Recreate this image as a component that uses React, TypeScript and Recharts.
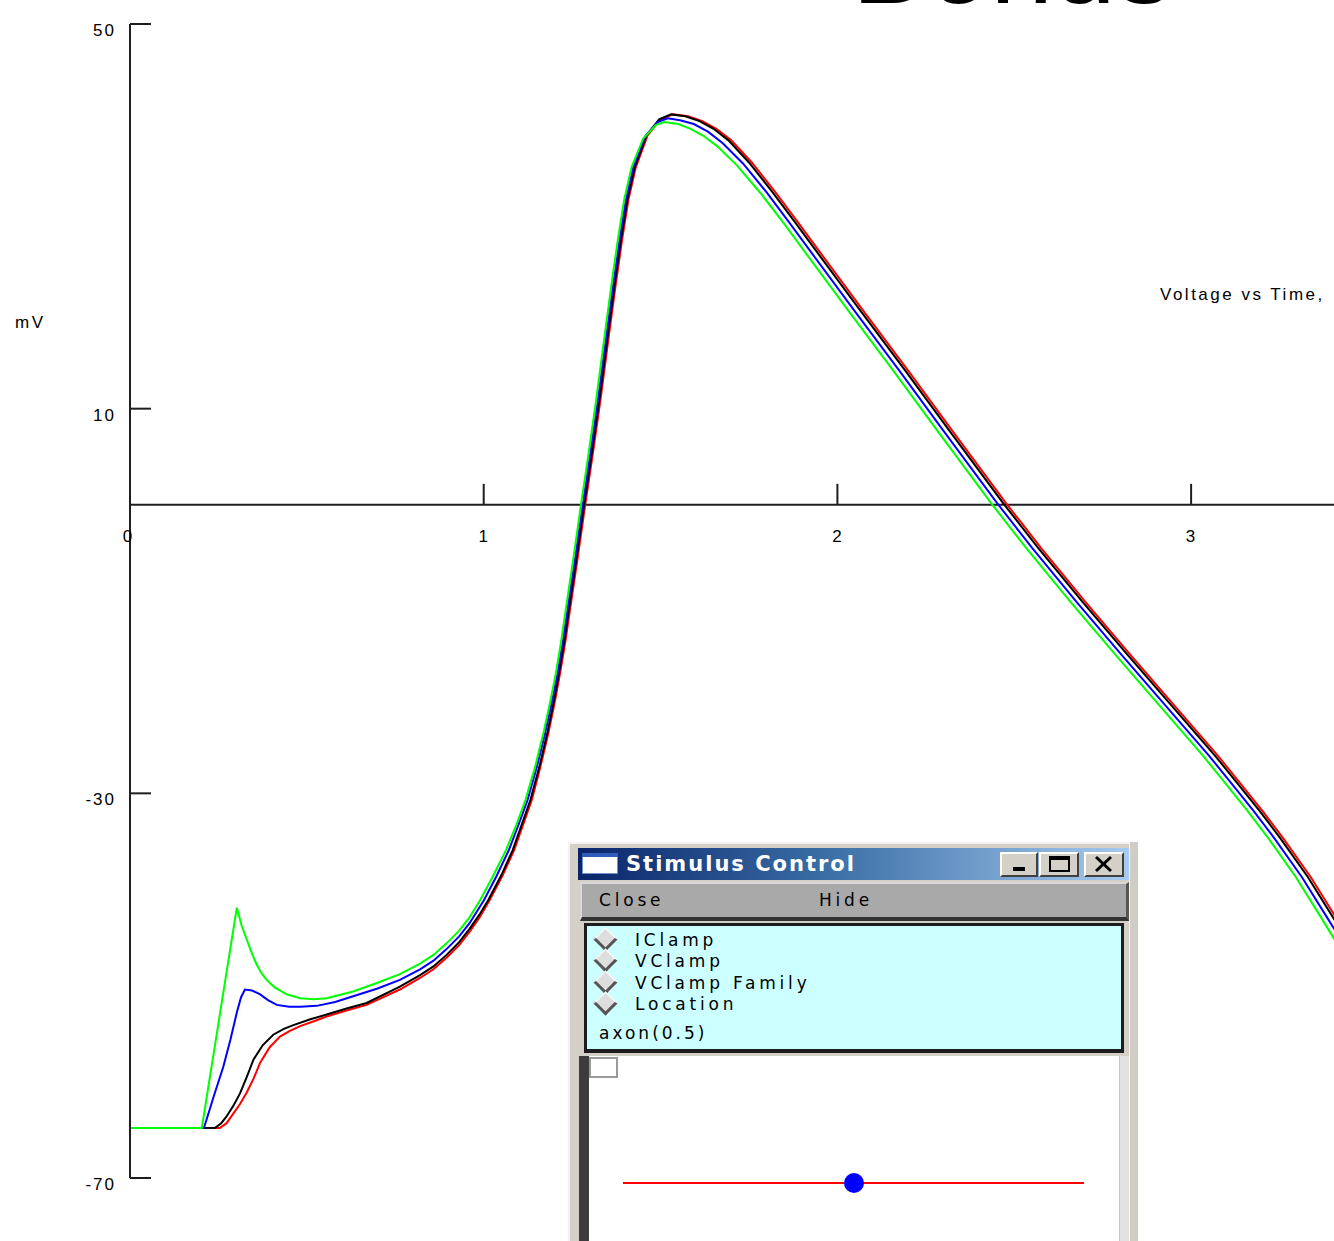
import React from 'react';
import { LineChart, Line, XAxis, YAxis, ReferenceLine } from 'recharts';

// [time (ms), membrane potential (mV)]
const redTrace: [number, number][] = [
  [0, -64.8], [0.254, -64.8], [0.273, -64.3], [0.292, -63.3], [0.311, -62.3], [0.33, -61.1], [0.349, -59.7],
  [0.368, -58.0], [0.395, -56.4], [0.424, -55.3], [0.452, -54.7], [0.481, -54.2], [0.52, -53.7], [0.556, -53.2],
  [0.61, -52.6], [0.669, -52.0], [0.763, -50.4], [0.82, -49.2], [0.858, -48.3], [0.895, -47.1], [0.93, -45.8],
  [0.96, -44.4], [0.99, -42.8], [1.017, -41.1], [1.054, -38.5], [1.086, -35.9], [1.111, -33.3], [1.136, -30.7],
  [1.16, -27.3], [1.183, -23.7], [1.201, -20.5], [1.216, -17.5], [1.231, -14.2], [1.244, -10.9], [1.265, -5.7],
  [1.287, 0.0], [1.31, 5.7], [1.33, 10.9], [1.355, 17.9], [1.374, 23.1], [1.391, 27.5], [1.409, 31.7],
  [1.43, 35.1], [1.463, 38.4], [1.5, 40.1], [1.535, 40.6], [1.578, 40.4], [1.618, 39.9], [1.658, 39.1],
  [1.7, 37.9], [1.758, 35.6], [1.825, 32.5], [1.888, 29.4], [1.95, 26.3], [2.075, 20.1], [2.201, 13.9],
  [2.325, 7.7], [2.476, 0.2], [2.576, -4.5], [2.701, -10.1], [2.826, -15.5], [2.951, -20.8], [3.076, -26.1],
  [3.151, -29.5], [3.201, -31.8], [3.259, -34.6], [3.338, -38.7], [3.411, -43.0], [3.508, -48.8],
];

const blackTrace: [number, number][] = [
  [0, -64.8], [0.24, -64.8], [0.258, -64.3], [0.273, -63.6], [0.292, -62.5], [0.311, -61.2], [0.33, -59.5],
  [0.349, -57.7], [0.375, -56.2], [0.405, -55.1], [0.435, -54.5], [0.462, -54.1], [0.51, -53.5], [0.556, -53.0],
  [0.61, -52.4], [0.669, -51.8], [0.763, -50.1], [0.82, -48.9], [0.858, -48.0], [0.895, -46.8], [0.93, -45.5],
  [0.96, -44.1], [0.99, -42.5], [1.013, -41.1], [1.05, -38.5], [1.082, -35.9], [1.107, -33.3], [1.132, -30.7],
  [1.157, -27.3], [1.18, -23.7], [1.198, -20.5], [1.213, -17.5], [1.228, -14.2], [1.241, -10.9], [1.262, -5.7],
  [1.284, 0.0], [1.307, 5.7], [1.327, 10.9], [1.352, 17.9], [1.371, 23.1], [1.388, 27.5], [1.406, 31.7],
  [1.427, 35.1], [1.46, 38.4], [1.496, 40.1], [1.53, 40.6], [1.57, 40.4], [1.61, 39.9], [1.65, 39.1],
  [1.692, 37.9], [1.75, 35.6], [1.817, 32.5], [1.88, 29.4], [1.942, 26.3], [2.067, 20.1], [2.193, 13.9],
  [2.317, 7.7], [2.468, 0.2], [2.568, -4.5], [2.693, -10.1], [2.818, -15.5], [2.943, -20.8], [3.068, -26.1],
  [3.143, -29.5], [3.193, -31.8], [3.251, -34.6], [3.33, -38.7], [3.403, -43.0], [3.5, -48.8],
];

const blueTrace: [number, number][] = [
  [0, -64.8], [0.209, -64.8], [0.236, -61.6], [0.264, -58.4], [0.284, -55.6], [0.302, -52.8], [0.314, -51.2],
  [0.325, -50.4], [0.345, -50.5], [0.368, -50.9], [0.39, -51.5], [0.415, -52.0], [0.45, -52.2], [0.481, -52.2],
  [0.528, -52.1], [0.58, -51.7], [0.631, -51.1], [0.7, -50.3], [0.763, -49.4], [0.82, -48.3], [0.858, -47.4],
  [0.895, -46.2], [0.93, -44.9], [0.96, -43.5], [1.001, -41.1], [1.035, -38.7], [1.071, -35.9], [1.098, -33.3],
  [1.124, -30.7], [1.15, -27.3], [1.174, -23.7], [1.193, -20.5], [1.209, -17.5], [1.224, -14.2], [1.237, -10.9],
  [1.258, -5.7], [1.28, 0.0], [1.303, 5.7], [1.323, 10.9], [1.348, 17.9], [1.367, 23.1], [1.384, 27.5],
  [1.402, 31.7], [1.423, 35.1], [1.456, 38.3], [1.492, 39.8], [1.52, 40.2], [1.555, 40.0], [1.594, 39.6],
  [1.634, 38.8], [1.676, 37.6], [1.733, 35.5], [1.8, 32.5], [1.863, 29.4], [1.925, 26.3], [2.05, 20.1],
  [2.176, 13.9], [2.3, 7.7], [2.451, 0.2], [2.551, -4.5], [2.676, -10.1], [2.801, -15.5], [2.926, -20.8],
  [3.051, -26.1], [3.126, -29.5], [3.176, -31.8], [3.234, -34.6], [3.313, -38.7], [3.386, -43.0],
  [3.483, -48.8], [3.55, -53.3],
];

const greenTrace: [number, number][] = [
  [0, -64.8], [0.203, -64.8], [0.302, -41.9], [0.316, -43.8], [0.33, -45.2], [0.344, -46.6], [0.358, -47.8],
  [0.372, -48.7], [0.386, -49.4], [0.41, -50.2], [0.443, -50.9], [0.481, -51.3], [0.52, -51.4], [0.556, -51.3],
  [0.631, -50.6], [0.7, -49.7], [0.763, -48.8], [0.82, -47.7], [0.858, -46.8], [0.895, -45.6], [0.93, -44.3],
  [0.96, -42.9], [0.99, -41.1], [1.025, -38.7], [1.063, -35.9], [1.092, -33.3], [1.118, -30.7], [1.145, -27.3],
  [1.169, -23.7], [1.188, -20.5], [1.204, -17.5], [1.219, -14.2], [1.232, -10.9], [1.253, -5.7], [1.275, 0.0],
  [1.298, 5.7], [1.318, 10.9], [1.343, 17.9], [1.362, 23.1], [1.379, 27.5], [1.397, 31.7], [1.418, 35.1],
  [1.451, 38.1], [1.487, 39.5], [1.51, 39.8], [1.55, 39.6], [1.585, 39.1], [1.62, 38.4], [1.66, 37.3],
  [1.716, 35.3], [1.783, 32.4], [1.846, 29.4], [1.908, 26.3], [2.033, 20.1], [2.159, 13.9], [2.283, 7.7],
  [2.434, 0.2], [2.534, -4.5], [2.659, -10.1], [2.784, -15.5], [2.909, -20.8], [3.034, -26.1], [3.109, -29.5],
  [3.159, -31.8], [3.217, -34.6], [3.296, -38.7], [3.369, -43.0], [3.466, -48.8], [3.55, -54.0],
];

const xTicks = [0, 1, 2, 3];
const yTicks = [50, 10, -30, -70];
const menuItems = ['IClamp', 'VClamp', 'VClamp Family', 'Location'];
const locationLabel = 'axon(0.5)';
const buttonLabels = ['Close', 'Hide'];

const X_MAX = 3.404;
const Y_MIN = -70;
const Y_MAX = 50;
const W = 1334;
const H = 1241;
const MARGIN = { top: 24, right: 0, bottom: 33, left: 0 };
const YAXIS_W = 130;
const XAXIS_H = 30;
const PLOT_H = H - MARGIN.top - MARGIN.bottom - XAXIS_H;
const ZERO_Y = MARGIN.top + (PLOT_H * (Y_MAX - 0)) / (Y_MAX - Y_MIN);

const axisFont = "'Liberation Sans', Arial, sans-serif";
const winFont = "'DejaVu Sans', sans-serif";
const AXIS_COLOR = '#1e1e1e';

const toPoints = (trace: [number, number][]) => trace.map(([t, v]) => ({ t, v }));

const XTick = (props: any) => {
  const { x, payload } = props;
  return (
    <g transform={`translate(${x},${ZERO_Y})`}>
      {payload.value !== 0 && <line x1={0} x2={0} y1={-21} y2={0} stroke={AXIS_COLOR} strokeWidth={2} />}
      <text
        x={payload.value === 0 ? -2 : 0}
        y={37}
        textAnchor="middle"
        fontFamily={axisFont}
        fontSize={17}
        letterSpacing={1}
        fill="#000"
      >
        {payload.value}
      </text>
    </g>
  );
};

const YTick = (props: any) => {
  const { x, y, payload } = props;
  return (
    <g>
      <line x1={x} x2={x + 21} y1={y} y2={y} stroke={AXIS_COLOR} strokeWidth={2} />
      <text x={x - 14} y={y + 12} textAnchor="end" fontFamily={axisFont} fontSize={17} letterSpacing={2} fill="#000">
        {payload.value}
      </text>
    </g>
  );
};

const OX = 568;
const OY = 842;
const at = (x: number, y: number, w: number, h: number): React.CSSProperties => ({
  position: 'absolute',
  left: x - OX,
  top: y - OY,
  width: w,
  height: h,
  boxSizing: 'border-box',
});

const winText: React.CSSProperties = {
  fontFamily: winFont,
  fontSize: 17,
  letterSpacing: 3.8,
  color: '#000',
  whiteSpace: 'nowrap',
};

const bevel: React.CSSProperties = {
  background: '#d4d0c8',
  borderTop: '2px solid #ffffff',
  borderLeft: '2px solid #ffffff',
  borderBottom: '2px solid #404040',
  borderRight: '2px solid #404040',
};

const StimulusWindow = () => (
  <div style={{ position: 'absolute', left: OX, top: OY, width: 570, height: H - OY, background: '#d4d0c8', overflow: 'hidden' }}>
    <div style={{ ...at(568, 842, 570, 2), background: '#f2f2f2' }} />
    <div style={{ ...at(568, 842, 2, 400), background: '#f2f2f2' }} />
    {/* title bar */}
    <div style={{ ...at(578, 848, 551, 32), background: 'linear-gradient(to right, #0a246a 0%, #3a6ea5 45%, #a6caf0 100%)' }} />
    <div style={{ ...at(582, 853, 36, 21), background: '#ffffff', border: '1px solid #6f8fd0' }} />
    <div style={{ ...at(582, 853, 36, 4), background: '#2f5cb8' }} />
    <div
      style={{
        ...at(626, 848, 300, 32),
        lineHeight: '32px',
        fontFamily: winFont,
        fontWeight: 'bold',
        fontSize: 21,
        letterSpacing: 2,
        color: '#ffffff',
        whiteSpace: 'nowrap',
      }}
    >
      Stimulus Control
    </div>
    <div style={{ ...at(1000, 852, 38, 25), ...bevel }}>
      <div style={{ position: 'absolute', left: 11, top: 13, width: 12, height: 4, background: '#000' }} />
    </div>
    <div style={{ ...at(1039, 852, 40, 25), ...bevel }}>
      <div style={{ position: 'absolute', left: 8, top: 2, width: 21, height: 16, border: '2px solid #000', borderTop: '4px solid #000', boxSizing: 'border-box' }} />
    </div>
    <div style={{ ...at(1084, 852, 40, 25), ...bevel }}>
      <svg width={36} height={21} style={{ position: 'absolute', left: 0, top: 0 }}>
        <line x1={10} y1={3} x2={25} y2={17} stroke="#000" strokeWidth={3} />
        <line x1={25} y1={3} x2={10} y2={17} stroke="#000" strokeWidth={3} />
      </svg>
    </div>
    {/* button bar */}
    <div
      style={{
        ...at(580, 882, 549, 39),
        background: '#a9a9a9',
        borderTop: '2px solid #d8d8d8',
        borderLeft: '2px solid #d8d8d8',
        borderBottom: '4px solid #333333',
        borderRight: '3px solid #555555',
      }}
    />
    <div style={{ ...at(599, 888, 120, 24), ...winText, lineHeight: '24px' }}>{buttonLabels[0]}</div>
    <div style={{ ...at(819, 888, 120, 24), ...winText, lineHeight: '24px' }}>{buttonLabels[1]}</div>
    {/* cyan panel */}
    <div style={{ ...at(584, 923, 540, 130), background: '#ccffff', border: '3px solid #1c1c1c', borderBottom: '4px solid #1c1c1c' }} />
    {menuItems.map((item, i) => {
      const cy = 940 + i * 21.3;
      return (
        <React.Fragment key={item}>
          <div
            style={{
              ...at(597, cy - 9, 17, 17),
              background: '#dedede',
              borderTop: '1px solid #ffffff',
              borderLeft: '1px solid #ffffff',
              borderBottom: '3px solid #555555',
              borderRight: '3px solid #555555',
              transform: 'rotate(45deg)',
            }}
          />
          <div style={{ ...at(635, cy - 11, 300, 22), ...winText, lineHeight: '22px' }}>{item}</div>
        </React.Fragment>
      );
    })}
    <div style={{ ...at(599, 1022, 300, 22), ...winText, lineHeight: '22px', letterSpacing: 3 }}>{locationLabel}</div>
    {/* lower white area */}
    <div style={{ ...at(579, 1056, 10, 200), background: '#3c3c3c' }} />
    <div style={{ ...at(589, 1056, 530, 200), background: '#ffffff' }} />
    <div style={{ ...at(1119, 1056, 10, 200), background: '#e2e2e2', borderLeft: '1px solid #c8c8c8' }} />
    <div style={{ ...at(1129, 842, 9, 400), background: '#d0cdc6', borderLeft: '1px solid #f4f4f4' }} />
    <div style={{ ...at(589, 1057, 29, 21), background: '#ffffff', border: '2px solid #9a9a9a' }} />
    <div style={{ ...at(623, 1182, 461, 2), background: '#ff0000' }} />
    <div style={{ ...at(844, 1173, 20, 20), background: '#0000ff', borderRadius: '50%' }} />
  </div>
);

export default function App() {
  return (
    <div style={{ position: 'absolute', left: 0, top: 0, width: W, height: H, background: '#ffffff', overflow: 'hidden' }}>
      <div
        style={{
          position: 'absolute',
          left: 852,
          top: -92,
          fontFamily: axisFont,
          fontSize: 113,
          lineHeight: '113px',
          color: '#000',
          whiteSpace: 'nowrap',
        }}
      >
        Bonus
      </div>
      <LineChart width={W} height={H} margin={MARGIN}>
        <XAxis
          dataKey="t"
          type="number"
          domain={[0, X_MAX]}
          allowDataOverflow
          ticks={xTicks}
          interval={0}
          axisLine={false}
          tickLine={false}
          tickSize={0}
          tickMargin={0}
          height={XAXIS_H}
          tick={<XTick />}
        />
        <YAxis
          type="number"
          domain={[Y_MIN, Y_MAX]}
          ticks={yTicks}
          interval={0}
          width={YAXIS_W}
          axisLine={{ stroke: AXIS_COLOR, strokeWidth: 2 }}
          tickLine={false}
          tickSize={0}
          tickMargin={0}
          tick={<YTick />}
        />
        <ReferenceLine y={0} stroke={AXIS_COLOR} strokeWidth={2} />
        <Line data={toPoints(redTrace)} dataKey="v" type="linear" stroke="#ff0000" strokeWidth={2} dot={false} isAnimationActive={false} />
        <Line data={toPoints(blackTrace)} dataKey="v" type="linear" stroke="#000000" strokeWidth={2} dot={false} isAnimationActive={false} />
        <Line data={toPoints(blueTrace)} dataKey="v" type="linear" stroke="#0000ff" strokeWidth={2} dot={false} isAnimationActive={false} />
        <Line data={toPoints(greenTrace)} dataKey="v" type="linear" stroke="#00ff00" strokeWidth={2} dot={false} isAnimationActive={false} />
      </LineChart>
      <div style={{ position: 'absolute', left: 15, top: 313, fontFamily: axisFont, fontSize: 17, letterSpacing: 2.5, color: '#000', whiteSpace: 'nowrap' }}>
        mV
      </div>
      <div style={{ position: 'absolute', left: 1160, top: 285, fontFamily: axisFont, fontSize: 17, letterSpacing: 2.5, color: '#000', whiteSpace: 'nowrap' }}>
        Voltage vs Time,
      </div>
      <StimulusWindow />
    </div>
  );
}
